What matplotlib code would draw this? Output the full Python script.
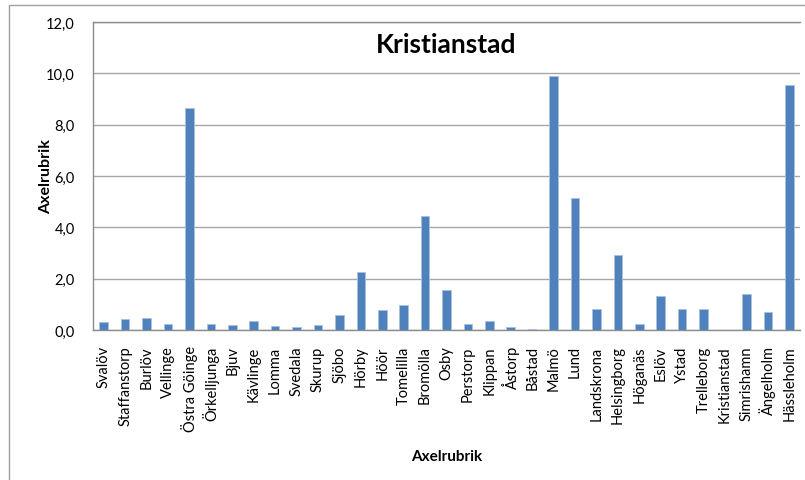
import numpy as np
import matplotlib.pyplot as plt
from matplotlib.patches import Rectangle

kommuner = ["Svalöv", "Staffanstorp", "Burlöv", "Vellinge", "Östra Göinge",
            "Örkelljunga", "Bjuv", "Kävlinge", "Lomma", "Svedala", "Skurup",
            "Sjöbo", "Hörby", "Höör", "Tomelilla", "Bromölla", "Osby",
            "Perstorp", "Klippan", "Åstorp", "Båstad", "Malmö", "Lund",
            "Landskrona", "Helsingborg", "Höganäs", "Eslöv", "Ystad",
            "Trelleborg", "Kristianstad", "Simrishamn", "Ängelholm", "Hässleholm"]
varden = [0.32, 0.43, 0.45, 0.25, 8.65, 0.25, 0.19, 0.34, 0.16, 0.12, 0.21,
          0.57, 2.26, 0.79, 0.96, 4.44, 1.54, 0.25, 0.34, 0.13, 0.05, 9.91,
          5.14, 0.82, 2.92, 0.25, 1.34, 0.83, 0.80, 0.0, 1.40, 0.71, 9.53]
yticks = [0, 2, 4, 6, 8, 10, 12]

plt.rcParams['font.family'] = ['Lato', 'DejaVu Sans']

fig = plt.figure(figsize=(8.05, 4.81), dpi=100)
# outer chart border (cut off on the right and bottom)
fig.patches.append(Rectangle((9/805, -0.1), 1.2, 1.1 - 6/481,
                             transform=fig.transFigure, fill=False,
                             edgecolor='#a0a0a0', linewidth=1.0))

ax = fig.add_axes([93/805, 1 - 331/481, 707/805, 308/481])
x = np.arange(len(kommuner))
ax.bar(x, varden, width=0.4, color='#4F81BD', edgecolor='#a9c1e0', linewidth=0.6,
       zorder=3)

ax.set_xlim(-0.5, len(kommuner) - 0.5)
ax.set_ylim(0, 12)
ax.set_yticks(yticks)
ax.set_yticklabels([f"{v:.1f}".replace('.', ',') for v in yticks], fontsize=10.5)
ax.set_xticks(x)
ax.set_xticklabels(kommuner, rotation=90, fontsize=10.5)
ax.tick_params(axis='y', length=0, pad=13)
ax.tick_params(axis='x', length=0, pad=11)

ax.grid(axis='y', color='#a6a6a6', linewidth=1.0, zorder=0)
ax.spines['right'].set_visible(False)
for s in ['left', 'bottom', 'top']:
    ax.spines[s].set_color('#8c8c8c')
    ax.spines[s].set_linewidth(1.0)

ax.yaxis.set_label_coords(-40/707, 0.5)
ax.set_ylabel("Axelrubrik", fontsize=11.5, fontweight='bold')
ax.set_xlabel("Axelrubrik", fontsize=11, fontweight='bold', labelpad=13)
ax.set_title("Kristianstad", fontsize=19, fontweight='bold', y=0.875, x=0.5)

fig.savefig("out.png", dpi=100)
